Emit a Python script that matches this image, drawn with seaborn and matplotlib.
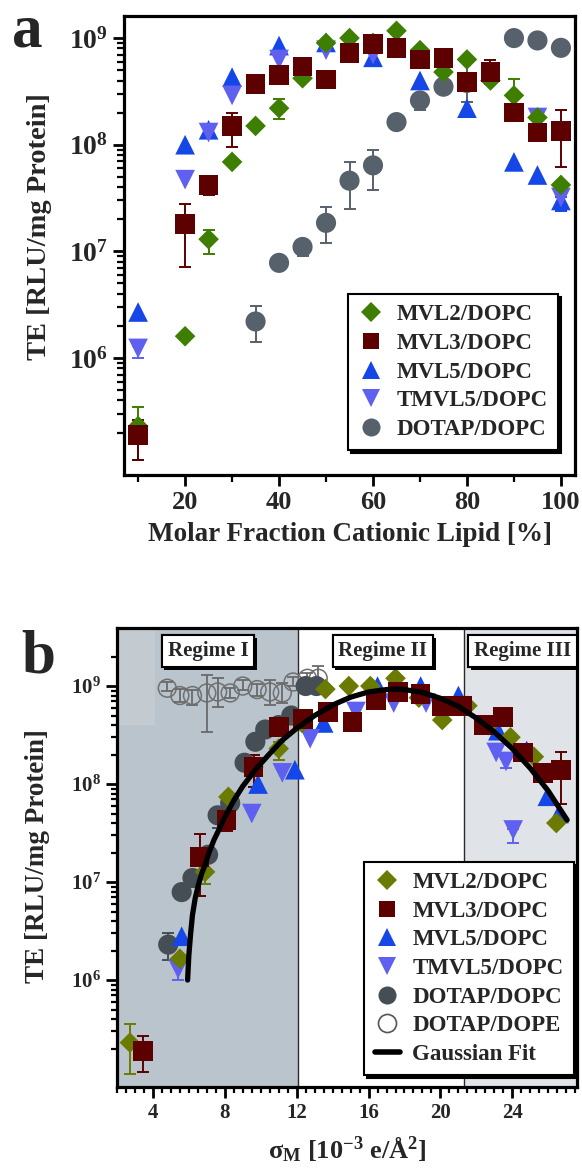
import numpy as np
import matplotlib
matplotlib.use("Agg")
import matplotlib.pyplot as plt
import matplotlib.patheffects as pe
from matplotlib.lines import Line2D
from matplotlib.ticker import FixedLocator, FuncFormatter, MultipleLocator, NullFormatter
import seaborn as sns

# ---- panel a: transfection efficiency vs molar fraction of cationic lipid (%) ----
mvl2_a_x = [10, 20, 25, 30, 35, 40, 45, 50, 55, 60, 65, 70, 75, 80, 85, 90, 95, 100]
mvl2_a_y = [2.3e5, 1.6e6, 1.3e7, 6.9e7, 1.5e8, 2.2e8, 4.2e8, 9.0e8, 1.0e9, 9.0e8, 1.17e9,
            7.7e8, 4.8e8, 6.3e8, 4.0e8, 2.9e8, 1.8e8, 4.2e7]
mvl3_a_x = [10, 20, 25, 30, 35, 40, 45, 50, 55, 60, 65, 70, 75, 80, 85, 90, 95, 100]
mvl3_a_y = [1.9e5, 1.8e7, 4.2e7, 1.5e8, 3.7e8, 4.5e8, 5.4e8, 4.1e8, 7.2e8, 8.8e8, 8.1e8,
            6.3e8, 6.5e8, 3.9e8, 4.8e8, 2.0e8, 1.3e8, 1.35e8]
mvl5_a_x = [10, 20, 25, 30, 40, 50, 60, 70, 80, 90, 95, 100]
mvl5_a_y = [2.7e6, 1.0e8, 1.38e8, 4.3e8, 8.5e8, 9.1e8, 6.6e8, 4.0e8, 2.2e8, 6.9e7, 5.2e7, 3.0e7]
tmvl5_a_x = [10, 20, 25, 30, 40, 50, 60, 95, 100]
tmvl5_a_y = [1.23e6, 4.7e7, 1.3e8, 2.9e8, 6.3e8, 7.7e8, 7.0e8, 1.8e8, 3.2e7]
dotap_a_x = [35, 40, 45, 50, 55, 60, 65, 70, 75, 80, 90, 95, 100]
dotap_a_y = [2.2e6, 7.8e6, 1.1e7, 1.85e7, 4.6e7, 6.4e7, 1.63e8, 2.6e8, 3.5e8, 3.8e8,
             1.0e9, 9.5e8, 8.1e8]

# error bars (x, lower, upper)
mvl2_a_err = ([10, 25, 40, 90], [1.1e5, 9.5e6, 1.75e8, 2.1e8], [3.5e5, 1.6e7, 2.7e8, 4.1e8])
mvl3_a_err = ([10, 20, 25, 30, 85, 100], [1.1e5, 7.1e6, 3.4e7, 9.5e7, 3.7e8, 6.2e7],
              [2.6e5, 2.8e7, 5.0e7, 2.0e8, 6.2e8, 2.1e8])
mvl5_a_err = ([100], [2.4e7], [3.2e7])
tmvl5_a_err = ([10], [1.0e6], [1.3e6])
dotap_a_err = ([35, 45, 50, 55, 60, 65, 70, 80],
               [1.4e6, 9.0e6, 1.2e7, 2.5e7, 3.8e7, 1.45e8, 2.1e8, 2.5e8],
               [3.1e6, 1.25e7, 2.6e7, 6.9e7, 8.9e7, 1.7e8, 2.8e8, 6.0e8])

# ---- panel b: transfection efficiency vs membrane charge density sigma_M ----
mvl2_b_x = [2.72, 5.5, 6.9, 8.2, 9.6, 11.0, 12.3, 13.6, 14.9, 16.1, 17.5, 18.8, 20.1,
            21.5, 22.7, 23.9, 25.2, 26.45]
mvl2_b_y = [2.3e5, 1.65e6, 1.27e7, 7.4e7, 1.5e8, 2.3e8, 4.2e8, 9.3e8, 1.0e9, 1.0e9, 1.2e9,
            7.6e8, 4.5e8, 6.3e8, 4.0e8, 3.0e8, 1.9e8, 4.0e7]
mvl3_b_x = [3.44, 6.6, 8.1, 9.6, 11.0, 12.35, 13.75, 15.1, 16.4, 17.65, 18.9, 20.1, 21.2,
            22.4, 23.5, 24.6, 25.7, 26.7]
mvl3_b_y = [1.9e5, 1.8e7, 4.3e7, 1.5e8, 3.8e8, 4.6e8, 5.4e8, 4.3e8, 7.2e8, 8.7e8, 8.3e8,
            6.3e8, 6.3e8, 4.0e8, 4.8e8, 2.1e8, 1.3e8, 1.4e8]
mvl5_b_x = [5.6, 9.85, 11.9, 13.5, 16.5, 18.9, 21.0, 23.2, 24.8, 25.95, 26.6]
mvl5_b_y = [2.8e6, 1.0e8, 1.4e8, 4.2e8, 1.0e9, 1.0e9, 8.0e8, 3.5e8, 2.2e8, 7.5e7, 5.0e7]
tmvl5_b_x = [5.4, 9.5, 11.2, 12.75, 15.3, 17.4, 19.2, 23.1, 23.65, 24.05]
tmvl5_b_y = [1.3e6, 5.0e7, 1.3e8, 2.9e8, 5.5e8, 6.7e8, 6.7e8, 2.1e8, 1.7e8, 3.4e7]
dotap_b_x = [4.85, 5.6, 6.2, 7.07, 7.6, 8.3, 9.1, 9.7, 10.25, 11.0, 11.7, 12.5, 13.1]
dotap_b_y = [2.3e6, 7.9e6, 1.1e7, 1.9e7, 4.8e7, 6.4e7, 1.65e8, 2.7e8, 3.6e8, 4.0e8, 5.0e8,
             1.0e9, 1.0e9]
dope_b_x = [4.8, 5.5, 6.2, 7.0, 7.6, 8.3, 9.0, 9.8, 10.5, 11.2, 11.8, 12.6, 13.2]
dope_b_y = [9.5e8, 8.0e8, 8.0e8, 8.5e8, 8.7e8, 8.5e8, 1.0e9, 9.2e8, 8.7e8, 8.5e8, 1.1e9,
            1.2e9, 1.2e9]
dope_b_lo = [8.8e8, 6.8e8, 6.4e8, 3.4e8, 6.1e8, 7.5e8, 9.1e8, 8.0e8, 6.4e8, 6.7e8, 1.0e9,
             1.05e9, 1.15e9]
dope_b_hi = [1.1e9, 9.3e8, 9.1e8, 1.3e9, 1.2e9, 9.5e8, 1.15e9, 1.05e9, 1.15e9, 1.07e9, 1.25e9,
             1.35e9, 1.6e9]

mvl2_b_err = ([2.72, 6.9, 11.0], [1.1e5, 9.5e6, 1.75e8], [3.6e5, 1.6e7, 2.7e8])
mvl3_b_err = ([3.44, 6.6, 8.1, 9.6, 26.7], [1.15e5, 7.2e6, 3.3e7, 9.3e7, 6.3e7],
              [2.7e5, 3.1e7, 5.0e7, 2.0e8, 2.1e8])
tmvl5_b_err = ([5.4, 23.65, 24.05], [1.0e6, 1.45e8, 2.5e7], [1.4e6, 1.8e8, 3.5e7])
dotap_b_err = ([4.85, 7.6, 8.3], [1.6e6, 3.6e7, 4.8e7], [3.0e6, 5.6e7, 8.0e7])

# Gaussian fit curve
fit_x = [5.93, 6.0, 6.1, 6.2, 6.35, 6.5, 6.7, 6.9, 7.1, 7.4, 7.7, 8.0, 8.5, 9.0, 9.7,
         10.4, 11.2, 12.0, 13.0, 14.0, 15.0, 16.0, 17.0, 17.5, 18.0, 19.0, 20.0, 21.0,
         22.0, 23.0, 24.0, 25.0, 26.0, 27.05]
fit_y = [1.0e6, 1.8e6, 3.0e6, 4.6e6, 6.8e6, 8.9e6, 1.2e7, 1.5e7, 1.95e7, 2.7e7, 3.5e7,
         4.6e7, 6.8e7, 9.5e7, 1.4e8, 1.95e8, 2.8e8, 3.7e8, 5.0e8, 6.4e8, 7.7e8, 8.7e8,
         9.2e8, 9.3e8, 9.2e8, 8.6e8, 7.5e8, 6.2e8, 4.7e8, 3.4e8, 2.3e8, 1.45e8, 8.5e7, 4.3e7]

sns.set_theme(style="ticks")
plt.rcParams["font.family"] = ["Liberation Serif", "DejaVu Serif"]
plt.rcParams["font.weight"] = "bold"
plt.rcParams["axes.labelweight"] = "bold"
plt.rcParams["mathtext.fontset"] = "custom"
plt.rcParams["mathtext.rm"] = "Liberation Serif:bold"
plt.rcParams["mathtext.bf"] = "Liberation Serif:bold"
plt.rcParams["mathtext.it"] = "Liberation Serif:italic:bold"

GREEN = "#3e7e00"
OLIVE = "#6b7a00"
MAROON = "#5c0000"
BLUE = "#1446e8"
PURPLE = "#6060f0"
GRAY_A = "#56616b"
GRAY_B = "#464e55"


def dots(ax, x, y, marker, color, s):
    sns.scatterplot(x=x, y=y, marker=marker, color=color, s=s, linewidth=0,
                    edgecolor="none", ax=ax, zorder=3)


def bars(ax, xs, ys, err, color):
    lookup = dict(zip(xs, ys))
    ex, lo, hi = err
    yc = np.array([lookup[v] for v in ex])
    ax.errorbar(ex, yc, yerr=[yc - np.array(lo), np.array(hi) - yc], fmt="none",
                ecolor=color, elinewidth=1.4, capsize=4.5, capthick=1.4, zorder=2)


def log_axis(ax, lo, hi, minors, size):
    ax.set_yscale("log")
    ax.set_ylim(lo, hi)
    ax.yaxis.set_major_locator(FixedLocator([1e6, 1e7, 1e8, 1e9]))
    ax.yaxis.set_major_formatter(FuncFormatter(
        lambda v, p: r"$\mathbf{10^{%d}}$" % round(np.log10(v))))
    ax.yaxis.set_minor_locator(FixedLocator(minors))
    ax.yaxis.set_minor_formatter(NullFormatter())
    ax.tick_params(axis="y", which="major", labelsize=size)


def style(ax, lab_size):
    for sp in ax.spines.values():
        sp.set_linewidth(2.3)
        sp.set_color("black")
        sp.set_visible(True)
    ax.tick_params(which="major", direction="out", length=8, width=2.0, color="black")
    ax.tick_params(which="minor", direction="out", length=5, width=1.6, color="black")
    ax.tick_params(axis="x", which="major", labelsize=lab_size)


def legend(ax, anchor, handles, labels):
    leg = ax.legend(handles, labels, loc="lower right", bbox_to_anchor=anchor,
                    borderaxespad=0, fontsize=16.5, handlelength=1.1,
                    handletextpad=0.55, labelspacing=0.33, borderpad=0.45,
                    fancybox=False, framealpha=1, edgecolor="black",
                    shadow={"color": "black", "alpha": 1})
    leg.get_frame().set_linewidth(1.5)
    leg.set_zorder(10)
    return leg


minors = [k * 10.0 ** e for e in range(5, 9) for k in range(2, 10)]

fig = plt.figure(figsize=(5.82, 11.69), dpi=100)

# ---------------- panel a ----------------
axA = fig.add_axes([0.2131, 0.5937, 0.7749, 0.3926])
bars(axA, dotap_a_x, dotap_a_y, dotap_a_err, GRAY_A)
bars(axA, mvl2_a_x, mvl2_a_y, mvl2_a_err, GREEN)
bars(axA, mvl3_a_x, mvl3_a_y, mvl3_a_err, MAROON)
bars(axA, mvl5_a_x, mvl5_a_y, mvl5_a_err, BLUE)
bars(axA, tmvl5_a_x, tmvl5_a_y, tmvl5_a_err, PURPLE)
dots(axA, dotap_a_x, dotap_a_y, "o", GRAY_A, 210)
dots(axA, mvl5_a_x, mvl5_a_y, "^", BLUE, 200)
dots(axA, tmvl5_a_x, tmvl5_a_y, "v", PURPLE, 200)
dots(axA, mvl2_a_x, mvl2_a_y, "D", GREEN, 110)
dots(axA, mvl3_a_x, mvl3_a_y, "s", MAROON, 200)

log_axis(axA, 8.0e4, 1.61e9, minors, 20)
axA.set_xlim(7, 103)
axA.xaxis.set_major_locator(MultipleLocator(20))
axA.xaxis.set_minor_locator(MultipleLocator(10))
style(axA, 19)
axA.set_xlabel("Molar Fraction Cationic Lipid [%]", fontsize=19.5, labelpad=6)
axA.set_ylabel("TE [RLU/mg Protein]", fontsize=20.5)
axA.yaxis.set_label_coords(-0.16, 0.542)

hA = [Line2D([], [], ls="", marker=m, color=c, markersize=ms, markeredgewidth=0)
      for m, c, ms in [("D", GREEN, 10), ("s", MAROON, 12), ("^", BLUE, 13),
                       ("v", PURPLE, 13), ("o", GRAY_A, 13)]]
legend(axA, (0.962, 0.054), hA,
       ["MVL2/DOPC", "MVL3/DOPC", "MVL5/DOPC", "TMVL5/DOPC", "DOTAP/DOPC"])

# ---------------- panel b ----------------
axB = fig.add_axes([0.2010, 0.0701, 0.7904, 0.3926])
axB.axvspan(2.0, 12.05, color="#b9c4cc", zorder=0, lw=0)
axB.axvspan(2.0, 4.1, ymin=0.789, ymax=1.0, color="#c3cad0", zorder=0, lw=0)
axB.axvspan(21.3, 27.6, color="#e0e4e8", zorder=0, lw=0)
axB.axvline(12.05, color="#2a2a2a", lw=1.0, zorder=1)
axB.axvline(21.3, color="#2a2a2a", lw=1.0, zorder=1)

sns.scatterplot(x=dope_b_x, y=dope_b_y, marker="o", s=165, facecolor="none",
                edgecolor="#707070", color="#707070", linewidth=1.1, ax=axB, zorder=2)
dy = np.array(dope_b_y)
axB.errorbar(dope_b_x, dy, yerr=[dy - np.array(dope_b_lo), np.array(dope_b_hi) - dy],
             fmt="none", ecolor="#6a6a6a", elinewidth=1.3, capsize=4.5, capthick=1.3, zorder=2)
bars(axB, dotap_b_x, dotap_b_y, dotap_b_err, GRAY_B)
bars(axB, mvl2_b_x, mvl2_b_y, mvl2_b_err, OLIVE)
bars(axB, mvl3_b_x, mvl3_b_y, mvl3_b_err, MAROON)
bars(axB, tmvl5_b_x, tmvl5_b_y, tmvl5_b_err, PURPLE)
dots(axB, dotap_b_x, dotap_b_y, "o", GRAY_B, 210)
dots(axB, mvl5_b_x, mvl5_b_y, "^", BLUE, 200)
dots(axB, tmvl5_b_x, tmvl5_b_y, "v", PURPLE, 200)
dots(axB, mvl2_b_x, mvl2_b_y, "D", OLIVE, 110)
dots(axB, mvl3_b_x, mvl3_b_y, "s", MAROON, 200)
sns.lineplot(x=fit_x, y=fit_y, color="black", lw=3.8, sort=False, estimator=None,
             ax=axB, zorder=4)

log_axis(axB, 8.1e4, 3.9e9, minors + [2e9], 15)
axB.set_xlim(2.0, 27.6)
axB.xaxis.set_major_locator(MultipleLocator(4))
axB.xaxis.set_minor_locator(MultipleLocator(0.5))
style(axB, 15)
axB.tick_params(which="minor", length=4)
axB.set_xlabel("σ$_\\mathbf{M}$ [10$^{\\mathbf{-3}}$ e/Å$^{\\mathbf{2}}$]", fontsize=19, labelpad=8)
axB.set_ylabel("TE [RLU/mg Protein]", fontsize=19.5)
axB.yaxis.set_label_coords(-0.146, 0.503)

for xc, txt in [(7.06, "Regime I"), (16.8, "Regime II"), (24.55, "Regime III")]:
    t = axB.text(xc, 0.95, txt, transform=axB.get_xaxis_transform(), ha="center",
                 va="center", fontsize=15, fontweight="bold", zorder=6,
                 bbox=dict(boxstyle="square,pad=0.28", fc="white", ec="black", lw=1.5))
    t.get_bbox_patch().set_path_effects(
        [pe.withSimplePatchShadow(offset=(2, -2), shadow_rgbFace="black", alpha=1), pe.Normal()])

hB = [Line2D([], [], ls="", marker=m, color=c, markersize=ms, markeredgewidth=0)
      for m, c, ms in [("D", OLIVE, 10), ("s", MAROON, 12), ("^", BLUE, 13),
                       ("v", PURPLE, 13), ("o", GRAY_B, 13)]]
hB.append(Line2D([], [], ls="", marker="o", markerfacecolor="none",
                 markeredgecolor="#555555", markeredgewidth=1.2, markersize=13))
hB.append(Line2D([], [], color="black", lw=4))
legend(axB, (0.993, 0.026), hB,
       ["MVL2/DOPC", "MVL3/DOPC", "MVL5/DOPC", "TMVL5/DOPC", "DOTAP/DOPC",
        "DOTAP/DOPE", "Gaussian Fit"])

fig.text(0.021, 0.960, "a", fontsize=44, fontweight="bold")
fig.text(0.036, 0.425, "b", fontsize=44, fontweight="bold")

fig.savefig("out.png", dpi=100)
